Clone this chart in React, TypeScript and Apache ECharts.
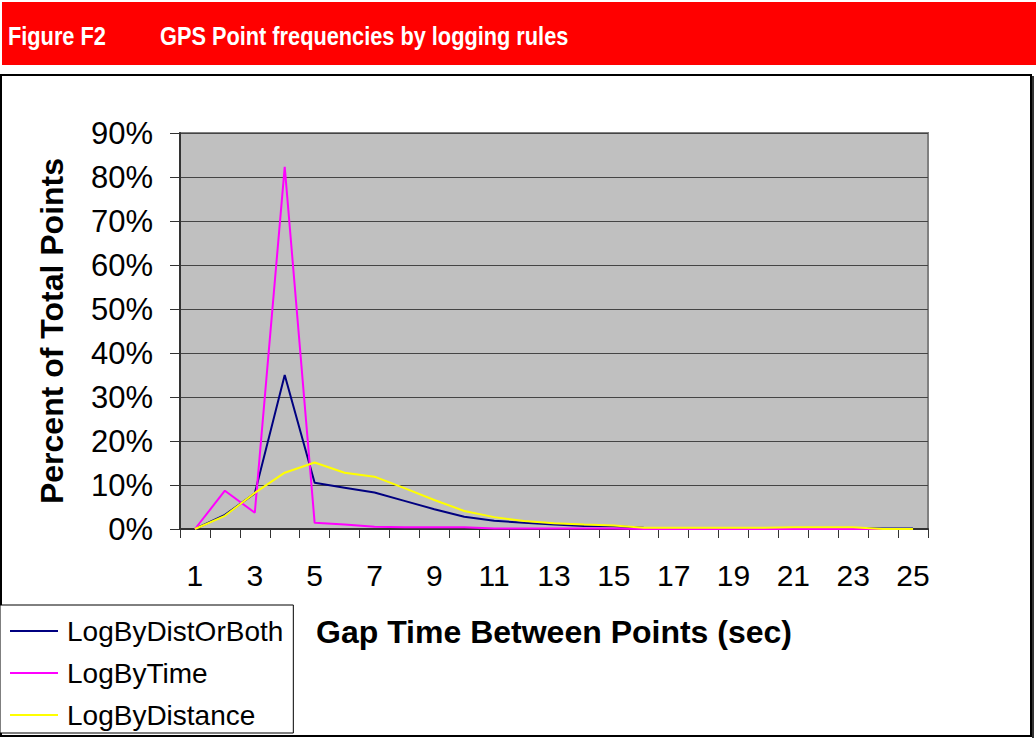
import React, { useEffect, useRef } from "react";
import * as echarts from "echarts";

const categories = [
  "1", "2", "3", "4", "5", "6", "7", "8", "9", "10", "11", "12", "13",
  "14", "15", "16", "17", "18", "19", "20", "21", "22", "23", "24", "25",
];
const logByDistOrBoth = [
  0, 3.2, 8.1, 35.0, 10.5, 9.4, 8.3, 6.4, 4.5, 2.8, 1.9, 1.4, 1.0, 0.7, 0.6,
  0.3, 0.2, 0.2, 0.2, 0.2, 0.2, 0.2, 0.2, 0.1, 0.1,
];
const logByTime = [
  0, 8.7, 3.7, 82.3, 1.4, 1.0, 0.5, 0.4, 0.4, 0.4, 0.1, 0.1, 0.1, 0.1, 0.1,
  0.0, 0.0, 0.0, 0.0, 0.0, 0.0, 0.0, 0.0, 0.0, 0.0,
];
const logByDistance = [
  0, 3.0, 8.2, 12.8, 15.1, 12.8, 11.9, 9.3, 6.6, 4.1, 2.7, 1.8, 1.3, 1.0, 0.8,
  0.3, 0.3, 0.3, 0.3, 0.3, 0.4, 0.4, 0.4, 0.0, 0.0,
];
const seriesNames = ["LogByDistOrBoth", "LogByTime", "LogByDistance"];
const seriesColors = ["#000080", "#FF00FF", "#FFFF00"];

const FONT = "'Liberation Sans', Arial, sans-serif";
const TITLE_FONT = "bold 25px 'Liberation Sans', Arial, sans-serif";

export default function App() {
  const ref = useRef<HTMLDivElement>(null);
  useEffect(() => {
    if (!ref.current) return;
    const chart = echarts.init(ref.current, null, { renderer: "svg" });
    const data = [logByDistOrBoth, logByTime, logByDistance];
    chart.setOption({
      animation: false,
      backgroundColor: "#ffffff",
      graphic: [
        {
          type: "rect",
          shape: { x: 2, y: 2, width: 1034, height: 63 },
          style: { fill: "#FF0000" },
          z: 0,
        },
        {
          type: "text",
          x: 8,
          y: 36,
          scaleX: 0.87,
          style: {
            text: "Figure F2",
            fill: "#ffffff",
            font: TITLE_FONT,
            verticalAlign: "middle",
          },
        },
        {
          type: "text",
          x: 160,
          y: 36,
          scaleX: 0.87,
          style: {
            text: "GPS Point frequencies by logging rules",
            fill: "#ffffff",
            font: TITLE_FONT,
            verticalAlign: "middle",
          },
        },
        {
          type: "rect",
          shape: { x: 1, y: 75, width: 1030, height: 661 },
          style: { fill: "none", stroke: "#000000", lineWidth: 2 },
          z: 0,
        },
        {
          type: "line",
          shape: { x1: 1033, y1: 76, x2: 1033, y2: 738 },
          style: { stroke: "#333333", lineWidth: 2 },
        },
      ],
      grid: {
        left: 180,
        right: 108,
        top: 133,
        bottom: 209,
        show: true,
        backgroundColor: "#C0C0C0",
        borderColor: "#808080",
        borderWidth: 2,
      },
      legend: {
        orient: "vertical",
        left: 0,
        top: 605,
        padding: [12, 10, 4, 10],
        itemGap: 14,
        itemWidth: 48,
        itemHeight: 2,
        icon: "rect",
        borderColor: "#000000",
        borderWidth: 1,
        backgroundColor: "#ffffff",
        data: seriesNames,
        textStyle: {
          fontFamily: FONT,
          fontSize: 28,
          color: "#000000",
          padding: [0, 0, 0, 4],
        },
      },
      xAxis: {
        type: "category",
        data: categories,
        boundaryGap: true,
        name: "Gap Time Between Points (sec)",
        nameLocation: "middle",
        nameGap: 87,
        nameTextStyle: { fontFamily: FONT, fontSize: 32, fontWeight: "bold", color: "#000000" },
        axisLine: { lineStyle: { color: "#333333", width: 2 } },
        axisTick: { show: true, length: 9, lineStyle: { color: "#333333" }, interval: 0 },
        axisLabel: {
          interval: 1,
          margin: 31,
          fontFamily: FONT,
          fontSize: 30,
          color: "#000000",
        },
        splitLine: { show: false },
      },
      yAxis: {
        type: "value",
        min: 0,
        max: 90,
        interval: 10,
        name: "Percent of Total Points",
        nameLocation: "middle",
        nameGap: 112,
        nameRotate: 90,
        nameTextStyle: { fontFamily: FONT, fontSize: 32, fontWeight: "bold", color: "#000000" },
        axisLine: { show: true, lineStyle: { color: "#333333", width: 2 } },
        axisTick: { show: true, length: 10, lineStyle: { color: "#333333" } },
        axisLabel: {
          margin: 27,
          fontFamily: FONT,
          fontSize: 31,
          color: "#000000",
          formatter: (v: number) => v + "%",
        },
        splitLine: { show: true, lineStyle: { color: "#444444", width: 1 } },
      },
      series: seriesNames.map((n, i) => ({
        name: n,
        type: "line",
        data: data[i],
        symbol: "none",
        color: seriesColors[i],
        lineStyle: { color: seriesColors[i], width: 2 },
      })),
    });
    return () => chart.dispose();
  }, []);
  return (
    <div
      ref={ref}
      style={{ position: "absolute", left: 0, top: 0, width: 1036, height: 738 }}
    />
  );
}
